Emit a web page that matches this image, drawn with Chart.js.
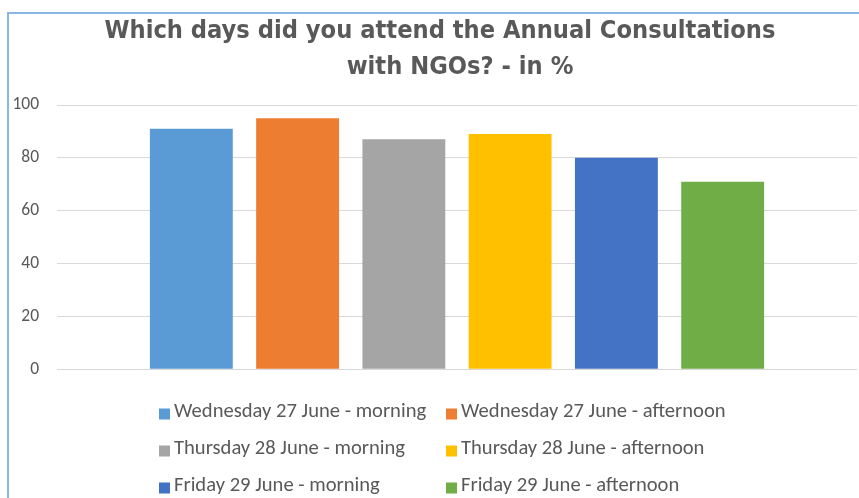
<!DOCTYPE html>
<html><head><meta charset="utf-8">
<script src="https://cdn.jsdelivr.net/npm/chart.js@4.4.1/dist/chart.umd.min.js"></script>
<style>
html,body{margin:0;padding:0;background:#fff;overflow:hidden}
#wrap{position:relative;width:859px;height:498px}
#frame{position:absolute;left:7px;top:12px;width:900px;height:600px;border-left:2px solid #8AB8E4;border-top:2px solid #8AB8E4;pointer-events:none;box-sizing:border-box}
canvas{display:block}
</style>
</head><body>
<div id="wrap"><canvas id="c" width="859" height="498"></canvas><div id="frame"></div></div>
<script>
const titleLines = ['Which days did you attend the Annual Consultations', 'with NGOs? - in %'];
const seriesNames = [
  'Wednesday 27 June - morning',
  'Wednesday 27 June - afternoon',
  'Thursday 28 June - morning',
  'Thursday 28 June - afternoon',
  'Friday 29 June - morning',
  'Friday 29 June - afternoon'
];
const seriesValues = [91, 95, 87, 89, 80, 71];
const seriesColors = ['#5B9BD5', '#ED7D31', '#A5A5A5', '#FFC000', '#4472C4', '#70AD47'];
const categories = [''];
const yTicks = [0, 20, 40, 60, 80, 100];

const excelTitle = {
  id: 'excelTitle',
  afterDraw(chart) {
    const ctx = chart.ctx;
    const cx = [440, 460], cy = [31.5, 67.5];
    ctx.save();
    ctx.font = 'bold 25.2px "DejaVu Sans Condensed"';
    ctx.fillStyle = '#595959';
    ctx.textAlign = 'center';
    ctx.textBaseline = 'middle';
    titleLines.forEach((t, i) => ctx.fillText(t, cx[i], cy[i]));
    ctx.restore();
  }
};

const gridLegend = {
  id: 'gridLegend',
  afterDraw(chart) {
    const ctx = chart.ctx;
    const boxX = [159, 446], textX = [174, 461], rowY = [412, 449, 486];
    ctx.save();
    ctx.font = '20.6px Carlito';
    ctx.textBaseline = 'middle';
    ctx.textAlign = 'left';
    chart.data.datasets.forEach((ds, i) => {
      const col = i % 2, row = Math.floor(i / 2);
      ctx.fillStyle = ds.backgroundColor;
      ctx.fillRect(boxX[col], rowY[row] - 3.5, 11, 11);
      ctx.fillStyle = '#595959';
      ctx.fillText(ds.label, textX[col], rowY[row]);
    });
    ctx.restore();
  }
};

new Chart(document.getElementById('c'), {
  type: 'bar',
  data: {
    labels: categories,
    datasets: seriesNames.map((n, i) => ({
      label: n,
      data: [seriesValues[i]],
      backgroundColor: seriesColors[i],
      borderWidth: 0,
      categoryPercentage: 0.797,
      barPercentage: 0.78
    }))
  },
  options: {
    responsive: false,
    animation: false,
    devicePixelRatio: 1,
    layout: { padding: { left: 0, right: 2, top: 105, bottom: 128.7 } },
    plugins: {
      legend: { display: false },
      tooltip: { enabled: false },
      title: { display: false }
    },
    scales: {
      x: { display: false },
      y: {
        min: 0, max: 100,
        afterFit(scale) { scale.width = 57; },
        afterBuildTicks(scale) { scale.ticks = yTicks.map(v => ({ value: v })); },
        border: { display: false },
        grid: { color: '#D9D9D9', lineWidth: 1, drawTicks: false },
        ticks: { color: '#595959', padding: 18, font: { family: 'Carlito', size: 17.5 } }
      }
    }
  },
  plugins: [excelTitle, gridLegend]
});
</script></body></html>
